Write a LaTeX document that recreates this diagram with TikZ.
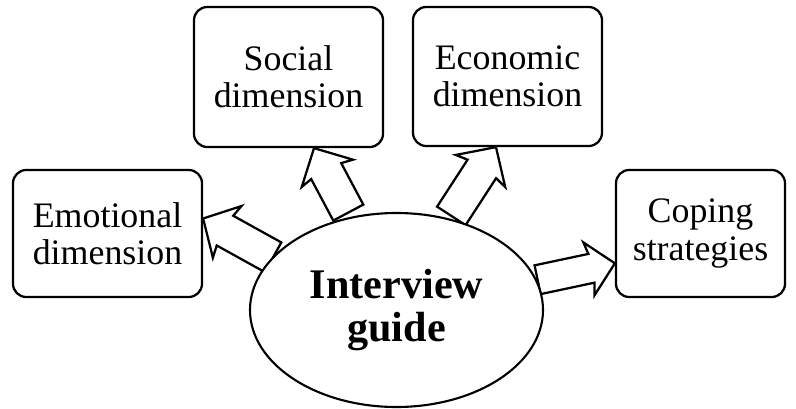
\documentclass[tikz,border=0pt]{standalone}
\usepackage{fontspec}
\setmainfont{Liberation Serif}
\usetikzlibrary{shapes.geometric}
\newcommand{\pxu}{0.025cm}
% Outlined block arrow: tip, direction angle, length, shaft half-width, head half-width, head length
\newcommand{\blockarrow}[6]{%
  \draw[arrowline, shift={(#1)}, rotate=#2]
    (0,0) -- (-#6-2.5, #5) -- (-#6, #4) -- (-#3, #4) -- (-#3, -#4)
    -- (-#6, -#4) -- (-#6-2.5, -#5) -- cycle;}
\begin{document}
\begin{tikzpicture}[x=\pxu, y=\pxu,
  topic/.style={draw, line width=1.6pt, rounded corners=0.33cm, fill=white,
    align=center, inner sep=0pt, font=\fontsize{25.5}{26.5}\selectfont},
  arrowline/.style={draw, line width=1.6pt, fill=white, line join=miter},
  hub/.style={ellipse, draw, line width=1.5pt, fill=white, align=center,
    inner sep=0pt, minimum width=293*\pxu, minimum height=194*\pxu,
    font=\bfseries\fontsize{30}{30}\selectfont}]
\useasboundingbox (0,0) rectangle (796,-408);

% the four dimension boxes
\node[topic, minimum width=189*\pxu, minimum height=127*\pxu] (emo) at (107.5,-233.5) {Emotional\\dimension};
\node[topic, minimum width=189*\pxu, minimum height=140*\pxu] (soc) at (288.5,-77) {Social\\dimension};
\node[topic, minimum width=189*\pxu, minimum height=139*\pxu] (eco) at (507.5,-76.5) {Economic\\dimension};
\node[topic, minimum width=169*\pxu, minimum height=127*\pxu] (cop) at (700.5,-233.5) {Coping\\strategies};

% arrow tips on the box borders
\coordinate (t1) at ([yshift=15*\pxu]emo.east);
\coordinate (t2) at ([xshift=25.5*\pxu]soc.south);
\coordinate (t3) at ([xshift=-11.5*\pxu]eco.south);
\coordinate (t4) at ([yshift=-29.8*\pxu]cop.west);

% block arrows leaving the central ellipse
\blockarrow{t1}{151}{80}{17}{29.5}{25}
\blockarrow{t2}{118}{73}{17}{29}{26}
\blockarrow{t3}{57}{82}{17}{29.5}{26}
\blockarrow{t4}{12}{79}{14.7}{27}{24}

% central ellipse drawn last so it covers the arrow tails
\node[hub] (guide) at (396.5,-310) {Interview\\guide};
\end{tikzpicture}
\end{document}
